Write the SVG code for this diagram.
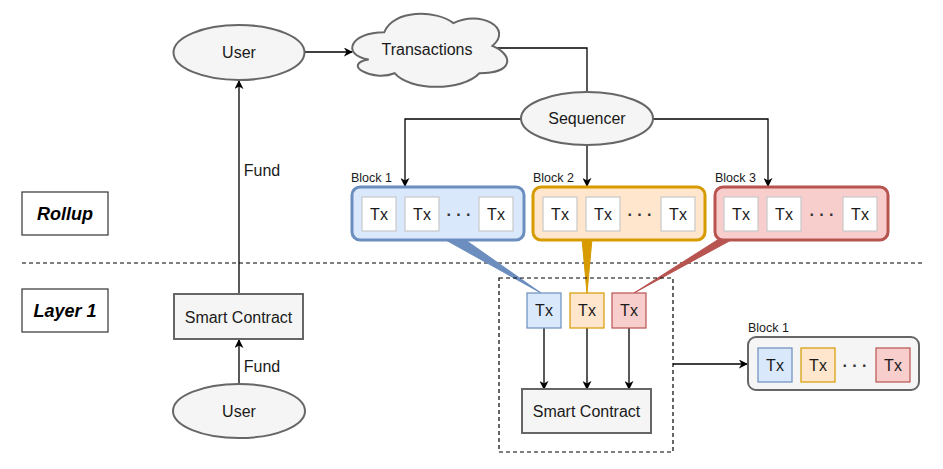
<svg xmlns="http://www.w3.org/2000/svg" width="943" height="469" viewBox="0 0 943 469">
<defs>
<marker id="arr" viewBox="0 0 10 10" refX="9" refY="5" markerWidth="9" markerHeight="9" markerUnits="userSpaceOnUse" orient="auto">
<path d="M0,0 L10,5 L0,10 L3,5 Z" fill="#000"/>
</marker>
<style>
text{font-family:"Liberation Sans",Arial,Helvetica,sans-serif;fill:#1a1a1a}
.t{font-size:16px;text-anchor:middle;dominant-baseline:central}
.dots{font-size:16px;font-weight:bold;text-anchor:middle;dominant-baseline:central;fill:#333}
.lbl{font-size:12.5px}
.lane{font-size:18px;font-weight:bold;font-style:italic;text-anchor:middle;dominant-baseline:central;fill:#000}
.gray{fill:#f5f5f5;stroke:#666;stroke-width:2}
.tx{fill:#fff;stroke:#c8c8c8;stroke-width:1.2}
.blue{fill:#dae8fc;stroke:#6c8ebf}
.orange{fill:#ffe6cc;stroke:#d79b00}
.red{fill:#f8cecc;stroke:#b85450}
.blk{stroke-width:3}
.c{fill:none;stroke:#000;stroke-width:1.3}
.dash{fill:none;stroke:#000;stroke-width:1.2;stroke-dasharray:4 3}
</style>
</defs>

<g id="divider"><line class="dash" x1="22" y1="263" x2="922" y2="263"/></g>

<g id="lane-rollup"><rect x="22" y="192" width="86" height="43" fill="#fff" stroke="#333" stroke-width="1.2"/><text class="lane" x="65" y="214">Rollup</text></g>
<g id="lane-layer1"><rect x="22" y="289" width="86" height="43" fill="#fff" stroke="#333" stroke-width="1.2"/><text class="lane" x="65" y="311">Layer 1</text></g>

<g id="callouts">
<polygon points="444,239 464,239 541,293" fill="#6c8ebf" stroke="#6c8ebf" stroke-width="1"/>
<polygon points="582,239 592,239 587,293" fill="#d79b00" stroke="#d79b00" stroke-width="1"/>
<polygon points="719,239 733,239 634,293" fill="#b85450" stroke="#b85450" stroke-width="1"/>
</g>

<g id="connectors">
<line class="c" x1="304" y1="52" x2="352" y2="52" marker-end="url(#arr)"/>
<polyline class="c" points="493,48 587,48 587,92"/>
<polyline class="c" points="521,119 405,119 405,186" marker-end="url(#arr)"/>
<line class="c" x1="587" y1="145" x2="587" y2="186" marker-end="url(#arr)"/>
<polyline class="c" points="653,119 768,119 768,186" marker-end="url(#arr)"/>
<line class="c" x1="239" y1="294" x2="239" y2="81" marker-end="url(#arr)"/>
<line class="c" x1="239" y1="384" x2="239" y2="340" marker-end="url(#arr)"/>
<line class="c" x1="544" y1="328" x2="544" y2="389" marker-end="url(#arr)"/>
<line class="c" x1="587" y1="328" x2="587" y2="389" marker-end="url(#arr)"/>
<line class="c" x1="629" y1="328" x2="629" y2="389" marker-end="url(#arr)"/>
<line class="c" x1="673" y1="364" x2="747" y2="364" marker-end="url(#arr)"/>
<text class="t" x="262" y="170">Fund</text>
<text class="t" x="262" y="366">Fund</text>
</g>

<g id="user-top"><ellipse class="gray" cx="239" cy="52.5" rx="65.5" ry="27.5"/><text class="t" x="239" y="52.5">User</text></g>

<g id="transactions">
<path class="gray" transform="translate(341,9.5) scale(173,91)" vector-effect="non-scaling-stroke" d="M0.25,0.25 C0.05,0.25 0,0.5 0.16,0.55 C0,0.6 0.18,0.8 0.31,0.7 C0.4,0.9 0.7,0.9 0.8,0.7 C1,0.7 1,0.5 0.875,0.4 C1,0.2 0.8,0 0.65,0.15 C0.55,0 0.3,0 0.25,0.25 Z"/>
<text class="t" x="427" y="49">Transactions</text>
</g>

<g id="sequencer"><ellipse class="gray" cx="587" cy="118.5" rx="66" ry="26.5"/><text class="t" x="587" y="118.5">Sequencer</text></g>

<g id="block1">
<text class="lbl" x="351" y="182">Block 1</text>
<rect class="blue blk" x="352" y="187" width="172" height="53" rx="8"/>
<rect class="tx" x="362" y="197" width="34" height="34"/><text class="t" x="379" y="214">Tx</text>
<rect class="tx" x="405" y="197" width="34" height="34"/><text class="t" x="422" y="214">Tx</text>
<text class="dots" x="459" y="214">· · ·</text>
<rect class="tx" x="479" y="197" width="34" height="34"/><text class="t" x="496" y="214">Tx</text>
</g>

<g id="block2">
<text class="lbl" x="533" y="182">Block 2</text>
<rect class="orange blk" x="533" y="187" width="172" height="53" rx="8"/>
<rect class="tx" x="543" y="197" width="34" height="34"/><text class="t" x="560" y="214">Tx</text>
<rect class="tx" x="586" y="197" width="34" height="34"/><text class="t" x="603" y="214">Tx</text>
<text class="dots" x="640" y="214">· · ·</text>
<rect class="tx" x="661" y="197" width="34" height="34"/><text class="t" x="678" y="214">Tx</text>
</g>

<g id="block3">
<text class="lbl" x="715" y="182">Block 3</text>
<rect class="red blk" x="715" y="187" width="173" height="53" rx="8"/>
<rect class="tx" x="724" y="197" width="34" height="34"/><text class="t" x="741" y="214">Tx</text>
<rect class="tx" x="767" y="197" width="34" height="34"/><text class="t" x="784" y="214">Tx</text>
<text class="dots" x="822" y="214">· · ·</text>
<rect class="tx" x="843" y="197" width="34" height="34"/><text class="t" x="860" y="214">Tx</text>
</g>

<g id="smart-contract-left"><rect class="gray" x="174" y="294" width="129" height="45"/><text class="t" x="238.5" y="317">Smart Contract</text></g>

<g id="user-bottom"><ellipse class="gray" cx="239" cy="411" rx="66" ry="27"/><text class="t" x="239" y="411">User</text></g>

<g id="l1-container">
<rect class="dash" x="499" y="278" width="174" height="174"/>
<rect class="blue" x="527" y="293" width="34" height="35" stroke-width="1.2"/><text class="t" x="544" y="310.5">Tx</text>
<rect class="orange" x="570" y="293" width="34" height="35" stroke-width="1.2"/><text class="t" x="587" y="310.5">Tx</text>
<rect class="red" x="612" y="293" width="34" height="35" stroke-width="1.2"/><text class="t" x="629" y="310.5">Tx</text>
</g>

<g id="smart-contract-l1"><rect class="gray" x="522" y="389" width="129" height="44"/><text class="t" x="586.5" y="411">Smart Contract</text></g>

<g id="block1-l1">
<text class="lbl" x="748" y="332">Block 1</text>
<rect class="gray" x="748" y="337" width="171" height="53" rx="8"/>
<rect class="blue" x="758" y="348" width="34" height="34" stroke-width="1.2"/><text class="t" x="775" y="365">Tx</text>
<rect class="orange" x="801" y="348" width="34" height="34" stroke-width="1.2"/><text class="t" x="818" y="365">Tx</text>
<text class="dots" x="855" y="365">· · ·</text>
<rect class="red" x="876" y="348" width="34" height="34" stroke-width="1.2"/><text class="t" x="893" y="365">Tx</text>
</g>
</svg>
